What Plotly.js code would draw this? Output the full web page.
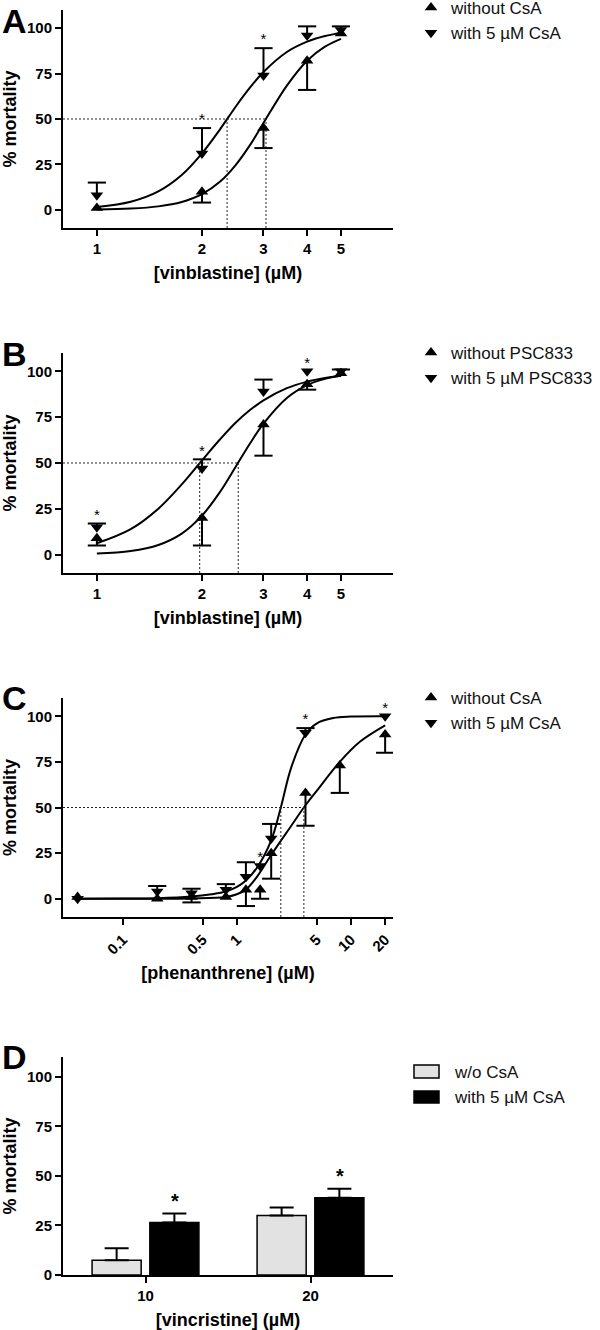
<!DOCTYPE html>
<html><head><meta charset="utf-8">
<script src="https://cdn.plot.ly/plotly-3.0.1.min.js"></script>
<style>body{margin:0;background:#fff}#chart{width:600px;height:1330px}</style>
</head><body><div id="chart"></div>
<script>
// ---------- Panel A : vinblastine +/- CsA ----------
const A_dose   = [1, 2, 3, 4, 5];
const A_woMean = [1, 10, 45, 82, 97];
const A_woErr  = [0, 6, 11, 16, 0];
const A_wMean  = [8, 31, 74, 96, 99];
const A_wErr   = [7, 14, 15, 5, 2];
const A_stars  = [false, true, true, false, false];
const A_fitX   = [1, 1.25, 1.5, 1.75, 2, 2.25, 2.5, 2.75, 3, 3.5, 4, 4.5, 5];
const A_fitWo  = [0.2, 0.7, 1.9, 4.3, 8.6, 15.4, 24.8, 35.9, 47.8, 68.4, 82.1, 89.8, 94.1];
const A_fitW   = [1.6, 4.5, 10.2, 19.2, 31.1, 44.2, 56.9, 67.5, 75.9, 86.9, 92.6, 95.7, 97.4];
const A_ec50   = [2.36, 3.05];
const A_legend = ['without CsA', 'with 5 µM CsA'];
const A_ticks  = [1, 2, 3, 4, 5];

// ---------- Panel B : vinblastine +/- PSC833 ----------
const B_dose   = [1, 2, 3, 4, 5];
const B_woMean = [9, 20, 71, 93, 99];
const B_woErr  = [4, 15, 17, 3, 0];
const B_wMean  = [15, 47, 89, 100, 100];
const B_wErr   = [2, 5, 6.5, 0, 1];
const B_stars  = [true, true, false, true, false];
const B_fitX   = [1, 1.25, 1.5, 1.75, 2, 2.25, 2.5, 2.75, 3, 3.5, 4, 4.5, 5];
const B_fitWo  = [0.6, 2.0, 5.3, 11.5, 21.3, 34.1, 48.1, 60.9, 71.5, 85.5, 92.5, 95.9, 97.6];
const B_fitW   = [6.2, 13.9, 25.1, 38.3, 51.4, 62.8, 72.1, 79.0, 84.2, 90.8, 94.4, 96.4, 97.6];
const B_ec50   = [1.97, 2.54];
const B_legend = ['without PSC833', 'with 5 µM PSC833'];
const B_ticks  = [1, 2, 3, 4, 5];

// ---------- Panel C : phenanthrene +/- CsA ----------
const C_dose   = [0.04, 0.2, 0.4, 0.8, 1.2, 1.6, 2, 4, 8, 20];
const C_woMean = [1, 0, 1, 1, 5, 5, 25, 58, 73, 90];
const C_woErr  = [0, 0, 3, 0, 9, 5, 14, 18, 15, 10];
const C_wMean  = [0, 4, 3, 5, 12, 18, 33, 91, null, 100];
const C_wErr   = [0, 3, 2.5, 3, 8, 0, 8, 2.5, null, 0];
const C_stars  = [false, false, false, false, false, true, false, true, false, true];
const C_fitWoX = [0.039, 0.2, 0.4, 0.8, 1, 1.2, 1.5, 2, 3, 3.87, 5, 8, 12, 20];
const C_fitWo  = [0, 0, 0.2, 1, 2.5, 5, 12, 24, 40, 50, 59, 75, 86, 95];
const C_fitWX  = [0.039, 0.1, 0.2, 0.4, 0.6, 0.8, 1, 1.2, 1.5, 2, 2.43, 3, 4, 5, 7, 10, 20];
const C_fitW   = [0, 0.1, 0.3, 1.2, 2.5, 4, 6.5, 10, 17, 32, 50, 72, 90, 96, 99, 99.8, 100];
const C_ec50   = [2.43, 3.87];
const C_legend = ['without CsA', 'with 5 µM CsA'];
const C_ticks  = [0.1, 0.5, 1, 5, 10, 20];

// ---------- Panel D : vincristine +/- CsA ----------
const D_cats   = ['10', '20'];
const D_wo     = [7.5, 30];
const D_woErr  = [6, 4];
const D_w      = [26.5, 39];
const D_wErr   = [4.5, 4.5];
const D_stars  = [true, true];
const D_legend = ['w/o CsA', 'with 5 µM CsA'];

const Y_ticks = [0, 25, 50, 75, 100];

// ---------- helpers ----------
const FONT = 'Arial, "Liberation Sans", Helvetica, sans-serif';
const BLACK = '#000';

function curve(x, y, xa, ya) {
  return {type: 'scatter', mode: 'lines', x: x, y: y, xaxis: xa, yaxis: ya,
    line: {color: BLACK, width: 2, shape: 'spline', smoothing: 1}, showlegend: false, hoverinfo: 'skip'};
}
function dotted(ec50, xmin, xa, ya) {
  const xs = [xmin, Math.max.apply(null, ec50), null], ys = [50, 50, null];
  ec50.forEach(e => { xs.push(e, e, null); ys.push(-10, 50, null); });
  return {type: 'scatter', mode: 'lines', x: xs, y: ys, xaxis: xa, yaxis: ya,
    line: {color: '#222', width: 1, dash: '2px,2px'}, showlegend: false, hoverinfo: 'skip'};
}
function errBars(xs, means, errs, dir, xa, ya) {
  const sx = [], sy = [], cx = [], cy = [];
  xs.forEach((x, i) => {
    const m = means[i], e = errs[i];
    if (m == null || !e) return;
    const end = m + dir * e;
    sx.push(x, x, null); sy.push(m, end, null);
    cx.push(x); cy.push(end);
  });
  return [
    {type: 'scatter', mode: 'lines', x: sx, y: sy, xaxis: xa, yaxis: ya,
      line: {color: BLACK, width: 2}, showlegend: false, hoverinfo: 'skip'},
    {type: 'scatter', mode: 'markers', x: cx, y: cy, xaxis: xa, yaxis: ya,
      marker: {symbol: 'line-ew', size: 13, color: BLACK, line: {color: BLACK, width: 2}},
      showlegend: false, hoverinfo: 'skip'}
  ];
}
function pts(xs, means, name, symbol, xa, ya, legend) {
  return {type: 'scatter', mode: 'markers', x: xs, y: means, name: name, xaxis: xa, yaxis: ya,
    legend: legend, marker: {symbol: symbol, size: 11, color: BLACK}};
}
function stars(xs, means, errs, flags, xa, ya) {
  const sx = [], sy = [];
  xs.forEach((x, i) => { if (flags[i]) { sx.push(x); sy.push(means[i] + (errs[i] || 0)); } });
  return {type: 'scatter', mode: 'text', x: sx, y: sy, text: sx.map(() => '*'),
    textposition: 'top center', textfont: {family: FONT, size: 15, color: BLACK},
    xaxis: xa, yaxis: ya, showlegend: false, hoverinfo: 'skip', cliponaxis: false};
}
function panel(d, xa, ya, legend, xmin) {
  return [
    curve(d.fitX1, d.fitWo, xa, ya), curve(d.fitX2, d.fitW, xa, ya),
    dotted(d.ec50, xmin, xa, ya),
    ...errBars(d.dose, d.woMean, d.woErr, -1, xa, ya),
    ...errBars(d.dose, d.wMean, d.wErr, +1, xa, ya),
    stars(d.dose, d.wMean, d.wErr, d.stars, xa, ya),
    pts(d.dose, d.woMean, d.legend[0], 'triangle-up', xa, ya, legend),
    pts(d.dose, d.wMean, d.legend[1], 'triangle-down', xa, ya, legend)
  ];
}

const A_range = [-0.097, 0.848];
const C_range = [-1.526, 1.37];

const traces = [].concat(
  panel({fitX1: A_fitX, fitWo: A_fitWo, fitX2: A_fitX, fitW: A_fitW, ec50: A_ec50, dose: A_dose,
    woMean: A_woMean, woErr: A_woErr, wMean: A_wMean, wErr: A_wErr, stars: A_stars, legend: A_legend},
    'x', 'y', 'legend', Math.pow(10, A_range[0])),
  panel({fitX1: B_fitX, fitWo: B_fitWo, fitX2: B_fitX, fitW: B_fitW, ec50: B_ec50, dose: B_dose,
    woMean: B_woMean, woErr: B_woErr, wMean: B_wMean, wErr: B_wErr, stars: B_stars, legend: B_legend},
    'x2', 'y2', 'legend2', Math.pow(10, A_range[0])),
  panel({fitX1: C_fitWoX, fitWo: C_fitWo, fitX2: C_fitWX, fitW: C_fitW, ec50: C_ec50, dose: C_dose,
    woMean: C_woMean, woErr: C_woErr, wMean: C_wMean, wErr: C_wErr, stars: C_stars, legend: C_legend},
    'x3', 'y3', 'legend3', Math.pow(10, C_range[0])),
  [
    {type: 'bar', x: D_cats, y: D_wo, name: D_legend[0], xaxis: 'x4', yaxis: 'y4', showlegend: false,
      marker: {color: '#e2e2e2', line: {color: BLACK, width: 1.5}},
      error_y: {type: 'data', symmetric: false, array: D_woErr, arrayminus: [0, 0], color: BLACK, thickness: 2, width: 12}},
    {type: 'bar', x: D_cats, y: D_w, name: D_legend[1], xaxis: 'x4', yaxis: 'y4', showlegend: false,
      marker: {color: BLACK, line: {color: BLACK, width: 1.5}},
      error_y: {type: 'data', symmetric: false, array: D_wErr, arrayminus: [0, 0], color: BLACK, thickness: 2, width: 12}}
  ]
);

const axBase = {
  showline: true, linecolor: BLACK, linewidth: 2, ticks: 'outside', ticklen: 6, tickwidth: 2,
  tickcolor: BLACK, showgrid: false, zeroline: false, fixedrange: true,
  tickfont: {family: FONT, size: 15, weight: 700, color: BLACK}
};
const tFont = {family: FONT, size: 18, weight: 700, color: BLACK};
function yAx(dom, anchor, range) {
  return Object.assign({}, axBase, {domain: dom, anchor: anchor, range: range,
    tickvals: Y_ticks, title: {text: '% mortality', font: tFont, standoff: 8}});
}
function xLog(dom, anchor, range, ticks, title, extra) {
  return Object.assign({}, axBase, {domain: dom, anchor: anchor, type: 'log', range: range,
    tickvals: ticks, ticktext: ticks.map(String), title: {text: title, font: tFont, standoff: 10}}, extra || {});
}
const XD = [0.105, 0.655];
function yd(top, bot) { return [1 - bot / 1330, 1 - top / 1330]; }

const legBase = {xanchor: 'left', yanchor: 'top', bgcolor: 'rgba(0,0,0,0)', borderwidth: 0,
  font: {family: FONT, size: 17, color: '#111'}, itemclick: false, itemdoubleclick: false, traceorder: 'normal'};

// manual legend for bar panel (D)
const D_legY = [1072, 1097];
const shapes = [
  {type: 'rect', xref: 'paper', yref: 'paper', x0: 414 / 600, x1: 439 / 600, y0: 1 - 1078 / 1330, y1: 1 - 1065 / 1330,
    fillcolor: '#e2e2e2', line: {color: BLACK, width: 1.5}},
  {type: 'rect', xref: 'paper', yref: 'paper', x0: 414 / 600, x1: 439 / 600, y0: 1 - 1103 / 1330, y1: 1 - 1091 / 1330,
    fillcolor: BLACK, line: {color: BLACK, width: 1.5}}
];
const letterTop = [0, 333, 677, 1036];
const annotations = [
  ...['A', 'B', 'C', 'D'].map((L, i) => ({text: L, xref: 'paper', yref: 'paper', x: 0.0, xanchor: 'left',
    y: 1 - letterTop[i] / 1330, yanchor: 'top', showarrow: false,
    font: {family: FONT, size: 34, weight: 700, color: BLACK}})),
  ...D_legend.map((t, i) => ({text: t, xref: 'paper', yref: 'paper', x: 452 / 600, xanchor: 'left',
    y: 1 - D_legY[i] / 1330, yanchor: 'middle', showarrow: false, font: {family: FONT, size: 17, color: '#111'}})),
  ...D_cats.map((c, i) => D_stars[i] ? ({text: '*', xref: 'x4', yref: 'y4', x: i, y: D_w[i] + D_wErr[i],
    xshift: 29, yanchor: 'bottom', showarrow: false, font: {family: FONT, size: 20, weight: 700, color: BLACK}}) : null).filter(Boolean)
];

const layout = {
  width: 600, height: 1330, margin: {l: 0, r: 0, t: 0, b: 0, autoexpand: false},
  paper_bgcolor: '#fff', plot_bgcolor: 'rgba(0,0,0,0)',
  font: {family: FONT, color: BLACK},
  showlegend: true, barmode: 'group', bargap: 0.30, bargroupgap: 0.15,
  xaxis:  xLog(XD, 'y', A_range, A_ticks, '[vinblastine] (µM)'),
  yaxis:  yAx(yd(10, 228), 'x', [-10, 110]),
  xaxis2: xLog(XD, 'y2', A_range, B_ticks, '[vinblastine] (µM)'),
  yaxis2: yAx(yd(353, 573), 'x2', [-10, 110]),
  xaxis3: xLog(XD, 'y3', C_range, C_ticks, '[phenanthrene] (µM)', {tickangle: -45}),
  yaxis3: yAx(yd(698, 917), 'x3', [-10, 110]),
  xaxis4: Object.assign({}, axBase, {domain: XD, anchor: 'y4', type: 'category', range: [-0.5, 1.5],
    title: {text: '[vincristine] (µM)', font: tFont, standoff: 10}}),
  yaxis4: yAx(yd(1057, 1275), 'x4', [0, 110]),
  legend:  Object.assign({}, legBase, {x: 411 / 600, y: 1 + 10 / 1330}),
  legend2: Object.assign({}, legBase, {x: 411 / 600, y: 1 - 335 / 1330}),
  legend3: Object.assign({}, legBase, {x: 411 / 600, y: 1 - 680 / 1330}),
  shapes: shapes,
  annotations: annotations
};

Plotly.newPlot('chart', traces, layout, {staticPlot: true, displayModeBar: false});
</script>
</body></html>
